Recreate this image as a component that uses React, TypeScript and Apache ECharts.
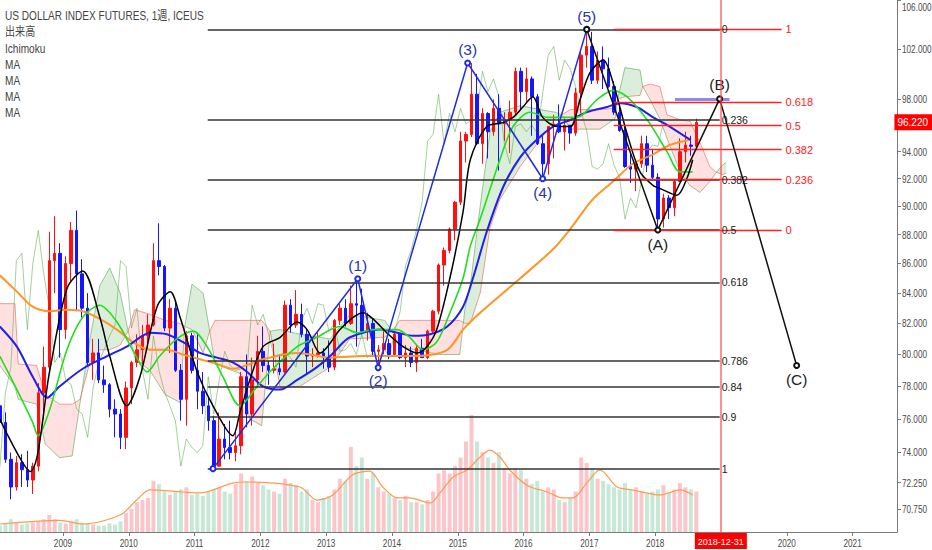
import React, { useEffect, useRef } from "react";
import * as echarts from "echarts";

// ---------- DATA ----------
const START_YEAR = 2008; // monthly candles from 2008-01
// [open, close, low, high]
const candles: number[][] = [
  // 2008
  [76.8, 75.8, 75.4, 77.3], [75.8, 73.6, 73.4, 76.4], [73.6, 72.0, 71.3, 74.0], [72.0, 73.4, 71.8, 73.8],
  [73.4, 73.0, 72.0, 73.9], [73.0, 72.4, 72.0, 74.1], [72.4, 73.2, 71.6, 73.4], [73.2, 77.6, 72.9, 78.2],
  [77.6, 79.2, 76.0, 80.5], [79.2, 86.2, 78.9, 88.2], [86.2, 86.7, 84.0, 89.3], [86.7, 81.6, 79.8, 87.4],
  // 2009
  [81.6, 86.0, 81.0, 86.5], [86.0, 88.3, 84.8, 88.9], [88.3, 85.3, 82.8, 89.7], [85.3, 83.0, 82.4, 86.3],
  [83.0, 79.5, 79.2, 84.0], [79.5, 80.1, 78.4, 81.0], [80.1, 78.4, 78.2, 81.0], [78.4, 78.1, 77.6, 79.3],
  [78.1, 76.6, 76.1, 78.2], [76.6, 76.3, 74.9, 77.2], [76.3, 74.9, 74.2, 76.6], [74.9, 77.9, 74.2, 78.3],
  // 2010
  [77.9, 79.5, 76.9, 79.6], [79.5, 80.3, 79.2, 81.3], [80.3, 81.2, 79.4, 81.9], [81.2, 81.9, 80.3, 82.6],
  [81.9, 86.2, 81.8, 87.4], [86.2, 85.8, 85.2, 88.8], [85.8, 81.7, 81.5, 85.9], [81.7, 83.0, 80.1, 83.6],
  [83.0, 79.0, 78.9, 83.4], [79.0, 77.2, 75.9, 79.4], [77.2, 81.2, 75.6, 81.5], [81.2, 79.0, 78.8, 81.4],
  // 2011
  [79.0, 77.7, 76.6, 81.4], [77.7, 76.8, 76.3, 78.9], [76.8, 75.9, 75.3, 77.4], [75.9, 73.2, 73.06, 76.2],
  [73.2, 74.8, 73.2, 76.4], [74.8, 74.3, 73.6, 75.7], [74.3, 74.0, 73.6, 75.9], [74.0, 74.4, 73.5, 75.3],
  [74.4, 78.6, 73.9, 78.9], [78.6, 76.3, 75.5, 80.0], [76.3, 78.4, 75.6, 79.8], [78.4, 80.2, 77.9, 81.2],
  // 2012
  [80.2, 79.3, 78.9, 81.8], [79.3, 79.0, 78.1, 79.6], [79.0, 79.1, 78.8, 80.7], [79.1, 78.9, 78.7, 80.0],
  [78.9, 83.2, 78.8, 83.5], [83.2, 81.9, 81.4, 83.6], [81.9, 82.6, 81.7, 84.2], [82.6, 81.3, 81.1, 83.3],
  [81.3, 79.9, 78.8, 81.6], [79.9, 80.0, 79.2, 80.4], [80.0, 80.1, 79.8, 81.4], [80.1, 79.8, 79.1, 80.4],
  // 2013
  [79.8, 79.2, 78.9, 80.9], [79.2, 82.2, 79.0, 82.3], [82.2, 83.0, 81.9, 83.3], [83.0, 82.0, 81.8, 83.6],
  [82.0, 83.3, 81.9, 84.5], [83.3, 83.2, 80.5, 84.97], [83.2, 81.5, 81.3, 84.3], [81.5, 82.0, 80.9, 82.7],
  [82.0, 80.2, 79.9, 82.3], [80.2, 80.3, 79.17, 80.6], [80.3, 80.7, 80.0, 81.5], [80.7, 80.0, 79.7, 81.0],
  // 2014
  [80.0, 81.3, 79.9, 81.5], [81.3, 79.8, 79.7, 81.4], [79.8, 80.1, 79.2, 80.6], [80.1, 79.5, 79.2, 80.5],
  [79.5, 80.4, 78.9, 80.6], [80.4, 79.8, 79.8, 81.0], [79.8, 81.5, 79.7, 81.6], [81.5, 82.8, 81.4, 82.9],
  [82.8, 85.9, 82.6, 86.0], [85.9, 86.9, 84.5, 87.1], [86.9, 88.4, 86.7, 88.5], [88.4, 90.3, 87.6, 90.4],
  // 2015
  [90.3, 94.8, 90.1, 95.5], [94.8, 95.3, 93.2, 95.5], [95.3, 98.4, 95.1, 100.87], [98.4, 94.6, 94.5, 100.0],
  [94.6, 96.9, 93.1, 97.3], [96.9, 95.5, 93.5, 97.0], [95.5, 97.3, 95.2, 98.0], [97.3, 96.1, 92.6, 98.4],
  [96.1, 96.4, 94.8, 97.0], [96.4, 97.0, 93.9, 97.9], [97.0, 100.2, 96.8, 100.5], [100.2, 98.6, 97.2, 100.5],
  // 2016
  [98.6, 99.6, 97.8, 100.5], [99.6, 98.2, 95.2, 99.8], [98.2, 94.6, 94.5, 98.4], [94.6, 93.1, 92.0, 95.2],
  [93.1, 95.9, 92.3, 95.9], [95.9, 96.1, 93.5, 96.8], [96.1, 95.5, 95.4, 97.6], [95.5, 96.0, 94.1, 96.5],
  [96.0, 95.4, 94.6, 96.0], [95.4, 98.5, 95.2, 98.9], [98.5, 101.5, 96.9, 101.9], [101.5, 102.2, 100.5, 103.6],
  // 2017
  [102.2, 99.5, 99.2, 103.4], [99.5, 101.1, 99.2, 101.8], [101.1, 100.4, 98.8, 102.2], [100.4, 99.0, 98.9, 101.3],
  [99.0, 97.0, 96.8, 99.4], [97.0, 95.6, 95.5, 97.8], [95.6, 92.9, 92.8, 96.0], [92.9, 92.7, 91.7, 94.0],
  [92.7, 93.1, 91.1, 93.4], [93.1, 94.6, 92.8, 95.2], [94.6, 93.0, 92.5, 95.2], [93.0, 92.1, 91.9, 94.2],
  // 2018
  [92.1, 89.1, 88.33, 92.4], [89.1, 90.6, 88.5, 90.9], [90.6, 89.9, 89.1, 90.8], [89.9, 91.8, 89.3, 91.9],
  [91.8, 94.0, 91.8, 95.0], [94.0, 94.5, 93.2, 95.5], [94.5, 94.4, 93.7, 95.2], [94.4, 96.22, 94.1, 96.5],
];

// weekly-average volume per month (thousand contracts)
const volume: number[] = [
  6, 8, 12, 9, 7, 8, 9, 10, 12, 16, 12, 9,
  8, 10, 12, 9, 8, 7, 6, 6, 8, 7, 10, 18,
  22, 28, 30, 32, 48, 45, 38, 35, 38, 40, 42, 35,
  36, 34, 38, 40, 42, 38, 36, 45, 55, 48, 52, 46,
  44, 40, 38, 36, 50, 46, 44, 38, 40, 30, 28, 32,
  34, 40, 50, 48, 80, 62, 70, 50, 55, 42, 38, 36,
  32, 30, 34, 28, 28, 26, 30, 38, 55, 58, 55, 62,
  70, 85, 110, 85, 75, 70, 65, 75, 60, 55, 60, 58,
  50, 45, 48, 38, 42, 40, 30, 28, 32, 38, 70, 65,
  60, 50, 48, 45, 42, 40, 46, 40, 42, 38, 36, 38,
  40, 44, 38, 40, 46, 42, 40, 38,
];

const volumeMA: number[][] = [
  [2008.04, 7.5], [2008.95, 11], [2009.3, 7.5], [2009.87, 16], [2010.12, 30], [2010.32, 39.5], [2010.82, 37.6],
  [2011.08, 36.7], [2011.58, 46], [2011.8, 47], [2012.6, 42.3], [2012.86, 30], [2013.1, 34.8], [2013.36, 51.7],
  [2013.47, 55.5], [2013.66, 57.3], [2013.86, 42.3], [2014.08, 32], [2014.27, 32], [2014.58, 27.3], [2014.73, 36.7],
  [2014.93, 51.7], [2015.14, 58.3], [2015.34, 70.5], [2015.49, 77], [2015.64, 70.5], [2015.79, 58.3], [2016.05, 44],
  [2016.36, 37.6], [2016.6, 32], [2016.75, 32], [2016.96, 46], [2017.16, 58.3], [2017.42, 42.3], [2017.66, 39.5],
  [2018.07, 34.8], [2018.38, 39.5], [2018.57, 34.8],
];

const maBlack: number[][] = [
  [2008.04, 76.0], [2008.5, 72.9], [2008.8, 79.0], [2009.06, 84.3], [2009.3, 85.5], [2009.56, 82.4], [2009.71, 79.9],
  [2009.97, 76.8], [2010.17, 78.6], [2010.43, 83.1], [2010.63, 84.1], [2010.78, 82.4], [2011.04, 78.9], [2011.28, 76.8],
  [2011.58, 75.0], [2011.69, 76.4], [2011.84, 78.4], [2012.04, 80.5], [2012.3, 81.1], [2012.56, 82.1], [2012.71, 81.6],
  [2012.91, 80.1], [2013.21, 81.6], [2013.41, 82.4], [2013.56, 82.7], [2013.71, 82.3], [2013.92, 81.4], [2014.17, 80.5],
  [2014.38, 80.1], [2014.53, 80.5], [2014.68, 81.6], [2014.88, 85.0], [2015.08, 89.6], [2015.19, 93.4], [2015.44, 95.9],
  [2015.69, 96.2], [2015.84, 96.6], [2015.99, 97.4], [2016.14, 98.2], [2016.29, 96.6], [2016.51, 95.9], [2016.71, 95.9],
  [2016.86, 98.0], [2017.01, 100.1], [2017.21, 101.1], [2017.36, 99.3], [2017.57, 95.4], [2017.77, 92.5], [2017.97, 91.5],
  [2018.07, 91.3], [2018.33, 90.8], [2018.48, 92.0], [2018.57, 93.4],
];

const maGreen: number[][] = [
  [2008.04, 79.9], [2008.3, 77.8], [2008.54, 75.8], [2008.62, 75.0], [2008.8, 76.6], [2009.06, 80.3], [2009.3, 82.4],
  [2009.56, 83.2], [2009.82, 82.1], [2010.06, 80.3], [2010.28, 78.9], [2010.47, 79.9], [2010.73, 81.0], [2010.98, 81.5],
  [2011.19, 80.5], [2011.43, 78.6], [2011.69, 76.8], [2011.95, 78.0], [2012.19, 79.1], [2012.56, 80.5], [2012.86, 81.1],
  [2013.21, 81.8], [2013.47, 81.4], [2013.71, 81.6], [2014.08, 81.6], [2014.27, 81.1], [2014.47, 80.3], [2014.68, 80.8],
  [2014.88, 82.7], [2015.08, 85.0], [2015.19, 87.2], [2015.34, 89.1], [2015.64, 93.4], [2015.84, 95.9], [2016.1, 97.0],
  [2016.36, 96.6], [2016.81, 96.6], [2017.12, 98.0], [2017.36, 98.7], [2017.57, 98.2], [2017.88, 96.4], [2018.07, 94.9],
  [2018.18, 94.0], [2018.38, 92.5], [2018.57, 92.5],
];

const maBlue: number[][] = [
  [2008.04, 81.8], [2008.3, 80.5], [2008.54, 78.6], [2008.76, 77.3], [2008.95, 78.0], [2009.3, 79.1], [2009.67, 79.9],
  [2009.97, 80.5], [2010.17, 81.1], [2010.32, 81.4], [2010.58, 81.3], [2010.82, 80.8], [2011.08, 80.1], [2011.34, 79.8],
  [2011.58, 79.5], [2011.8, 78.9], [2012.04, 78.0], [2012.3, 77.8], [2012.56, 78.4], [2012.86, 79.2], [2013.06, 79.9],
  [2013.32, 81.0], [2013.56, 81.4], [2013.82, 81.6], [2014.08, 81.4], [2014.32, 81.2], [2014.58, 81.3], [2014.84, 81.8],
  [2015.08, 83.1], [2015.23, 85.0], [2015.44, 88.2], [2015.69, 91.4], [2015.95, 93.6], [2016.2, 94.9], [2016.45, 95.9],
  [2016.71, 96.4], [2016.96, 97.0], [2017.27, 97.4], [2017.47, 97.7], [2017.72, 97.4], [2017.97, 96.6], [2018.22, 95.9],
  [2018.53, 94.9],
];

const maOrange: number[][] = [
  [2008.04, 85.2], [2008.3, 84.1], [2008.54, 83.1], [2008.8, 82.8], [2009.06, 82.9], [2009.3, 82.8], [2009.56, 82.3],
  [2009.82, 81.6], [2010.06, 80.8], [2010.32, 80.3], [2010.58, 80.3], [2010.82, 80.0], [2011.08, 79.7], [2011.34, 79.4],
  [2011.58, 79.1], [2012.04, 79.7], [2012.56, 80.1], [2013.06, 79.8], [2013.56, 79.9], [2014.38, 79.9], [2014.84, 80.3],
  [2015.08, 81.6], [2015.34, 82.7], [2015.95, 85.0], [2016.45, 87.0], [2016.71, 88.4], [2017.05, 90.5], [2017.36, 91.8],
  [2017.66, 93.1], [2017.97, 93.8], [2018.22, 94.5], [2018.53, 94.9],
];

// Ichimoku cloud [time, senkouA, senkouB]
const cloud: number[][] = [
  [2008.04, 79.3, 83.3], [2008.27, 78.0, 83.3], [2008.32, 77.2, 79.4], [2008.6, 76.9, 79.3], [2008.73, 74.5, 77.5],
  [2008.95, 73.7, 76.9], [2009.14, 73.8, 76.9], [2009.26, 77.0, 77.2], [2009.41, 81.0, 79.5], [2009.56, 84.5, 80.3],
  [2009.71, 85.7, 80.3], [2009.87, 84.0, 80.6], [2009.99, 81.5, 81.5], [2010.09, 79.8, 82.9], [2010.32, 79.0, 82.6],
  [2010.55, 77.5, 82.2], [2010.78, 77.0, 82.0], [2010.85, 81.8, 81.8], [2010.96, 84.6, 81.6], [2011.13, 84.0, 80.1],
  [2011.23, 81.5, 81.5], [2011.31, 79.4, 82.2], [2011.69, 78.8, 82.2], [2011.84, 76.0, 82.2], [2012.02, 75.6, 82.2],
  [2012.15, 81.5, 81.5], [2012.3, 81.6, 77.9], [2012.6, 81.3, 78.0], [2013.06, 81.0, 79.2], [2013.36, 82.6, 81.0],
  [2013.89, 82.2, 81.1], [2014.0, 81.5, 81.5], [2014.12, 80.5, 82.2], [2014.73, 80.0, 82.2], [2015.03, 80.0, 82.2],
  [2015.11, 83.0, 82.0], [2015.19, 84.5, 82.0], [2015.34, 90.0, 84.0], [2015.49, 95.5, 88.5], [2015.64, 97.0, 90.5],
  [2015.95, 97.5, 92.9], [2016.25, 97.2, 94.9], [2016.48, 97.0, 96.5], [2016.58, 96.8, 96.8], [2016.71, 95.7, 97.2],
  [2017.16, 95.7, 97.2], [2017.39, 96.5, 97.3], [2017.43, 98.0, 98.0], [2017.54, 100.5, 98.2], [2017.77, 100.3, 98.3],
  [2017.81, 99.0, 99.0], [2017.92, 98.0, 99.2], [2018.07, 96.5, 99.0], [2018.18, 95.0, 96.8], [2018.38, 92.5, 96.4],
  [2018.53, 91.5, 96.3], [2018.68, 91.0, 94.7], [2018.83, 91.8, 92.9], [2018.92, 92.4, 92.5], [2019.02, 93.0, 92.3],
  [2019.08, 93.2, 92.4],
];

// Elliott waves [label, time, price]
const impulseWave: (string | number)[][] = [
  ["", 2011.28, 73.06], ["(1)", 2013.48, 84.97], ["(2)", 2013.79, 79.17], ["(3)", 2015.15, 100.87],
  ["(4)", 2016.29, 92.0], ["(5)", 2016.96, 103.6],
];
const correctiveWave: (string | number)[][] = [
  ["", 2016.96, 103.6], ["(A)", 2018.04, 88.33], ["(B)", 2018.98, 98.03], ["(C)", 2020.15, 79.3],
];

// Fibonacci retracements
const fibBlackLevels = [0, 0.236, 0.382, 0.5, 0.618, 0.786, 0.84, 0.9, 1];
const fibBlackHigh = 103.6;
const fibBlackLow = 73.06;
const fibBlackSpan = [2011.2, 2018.98];
const fibRedLevels = [1, 0.618, 0.5, 0.382, 0.236, 0];
const fibRedHigh = 103.6;
const fibRedLow = 88.33;
const fibRedSpan = [2017.37, 2019.92];
const targetLine = { from: 2018.3, to: 2019.13, value: 98.03 };

const yearTicks = [2009, 2010, 2011, 2012, 2013, 2014, 2015, 2016, 2017, 2018, 2020, 2021];
const priceTicks = [70.75, 72.25, 74, 76, 78, 80, 82, 84, 86, 88, 90, 92, 94, 98, 102, 106];
const lastPrice = 96.22;
const markerDate = 2018.998;
const markerDateLabel = "2018-12-31";

const legendLines = ["US DOLLAR INDEX FUTURES, 1週, ICEUS", "出来高", "Ichimoku", "MA", "MA", "MA", "MA"];

// ---------- CHART ----------
const FONT = "'Liberation Sans', Arial, 'Noto Sans CJK JP', sans-serif";
const X_MIN = 2008.043;
const X_MAX = 2021.675;
const Y_MIN = 69.47;
const Y_MAX = 106.05;
const NARROW = 0.78;

function buildOption() {
  const times = candles.map((_, i) => START_YEAR + (i + 0.5) / 12);
  const UP = "#ff1010";
  const DOWN = "#1515ff";

  const cloudSeries = {
    type: "custom",
    silent: true,
    clip: true,
    z: 1,
    data: cloud,
    encode: { x: 0, y: [1, 2] },
    renderItem: (params: any, api: any) => {
      const i = params.dataIndex;
      if (i >= cloud.length - 1) return null;
      const [t0, a0, b0] = cloud[i];
      const [t1, a1, b1] = cloud[i + 1];
      const green = "rgba(70,170,70,0.2)";
      const pink = "rgba(255,80,80,0.17)";
      const poly = (pts: number[][], fill: string) => ({
        type: "polygon",
        shape: { points: pts.map((p) => api.coord(p)) },
        style: { fill, stroke: null },
      });
      const d0 = a0 - b0;
      const d1 = a1 - b1;
      if (d0 * d1 < 0) {
        const f = d0 / (d0 - d1);
        const tc = t0 + f * (t1 - t0);
        const vc = a0 + f * (a1 - a0);
        return {
          type: "group",
          children: [
            poly([[t0, a0], [tc, vc], [t0, b0]], d0 > 0 ? green : pink),
            poly([[tc, vc], [t1, a1], [t1, b1]], d1 > 0 ? green : pink),
          ],
        };
      }
      return poly([[t0, a0], [t1, a1], [t1, b1], [t0, b0]], d0 + d1 >= 0 ? green : pink);
    },
  };

  const line = (data: number[][], color: string, width: number, z: number, extra: any = {}) => ({
    type: "line",
    data,
    showSymbol: false,
    symbol: "none",
    silent: true,
    z,
    lineStyle: { color, width },
    ...extra,
  });

  const fibBlackLines = fibBlackLevels.map((lvl) => {
    const v = fibBlackHigh - lvl * (fibBlackHigh - fibBlackLow);
    return [
      {
        coord: [fibBlackSpan[0], v],
        lineStyle: { color: "#333", width: 1.6, type: "solid" },
        label: { show: true, position: "end", formatter: String(lvl), color: "#222", fontSize: 10.5, fontFamily: FONT, distance: 2 },
      },
      { coord: [fibBlackSpan[1], v] },
    ];
  });
  const fibRedLines = fibRedLevels.map((lvl) => {
    const v = fibRedLow + lvl * (fibRedHigh - fibRedLow);
    return [
      {
        coord: [fibRedSpan[0], v],
        lineStyle: { color: "#ff2020", width: 1.3, type: "solid" },
        label: { show: true, position: "end", formatter: String(lvl), color: "#ff1a1a", fontSize: 11, fontFamily: FONT, distance: 4 },
      },
      { coord: [fibRedSpan[1], v] },
    ];
  });
  const purple = [
    {
      coord: [targetLine.from, targetLine.value],
      lineStyle: { color: "#8c8ce6", width: 3, type: "solid" },
      label: { show: false },
    },
    { coord: [targetLine.to, targetLine.value] },
  ];

  const waveData = (w: (string | number)[][], pos: string[]) =>
    w.map((p, i) => ({
      value: [p[1], p[2]],
      label: { show: p[0] !== "", formatter: String(p[0]), position: pos[i] },
    }));

  return {
    animation: false,
    backgroundColor: "#ffffff",
    tooltip: { show: false },
    grid: { left: 0, right: 35, top: 0, bottom: 18, containLabel: false, outerBoundsMode: "none" },
    xAxis: {
      type: "value",
      min: X_MIN,
      max: X_MAX,
      splitLine: { show: false },
      axisLine: { show: true, onZero: false, lineStyle: { color: "#7a7a7a", width: 1 } },
      axisTick: { show: true, customValues: yearTicks, length: 4, lineStyle: { color: "#7a7a7a" } },
      axisLabel: { show: false },
      axisPointer: {
        show: true,
        type: "line",
        value: markerDate,
        status: "show",
        snap: false,
        triggerTooltip: false,
        handle: { show: false },
        lineStyle: { color: "rgba(255,70,70,0.6)", width: 2, type: "solid" },
        label: {
          show: true,
          formatter: () => markerDateLabel,
          backgroundColor: "#ff0000",
          color: "#ffffff",
          fontSize: 9,
          fontFamily: FONT,
          padding: [4, 3, 3, 3],
          margin: 1,
          borderRadius: 0,
          shadowBlur: 0,
        },
      },
    },
    yAxis: [
      {
        type: "log",
        logBase: 10,
        position: "right",
        min: Y_MIN,
        max: Y_MAX,
        splitLine: { show: false },
        axisLine: { show: true, lineStyle: { color: "#7a7a7a", width: 1 } },
        axisTick: { show: true, customValues: priceTicks, length: 4, lineStyle: { color: "#7a7a7a" } },
        axisLabel: { show: false },
        axisPointer: {
          show: true,
          type: "line",
          value: lastPrice,
          status: "show",
          snap: false,
          triggerTooltip: false,
          handle: { show: false },
          lineStyle: { opacity: 0 },
          label: {
            show: true,
            formatter: () => lastPrice.toFixed(3),
            backgroundColor: "#ff0000",
            color: "#ffffff",
            fontSize: 10,
            fontFamily: FONT,
            padding: [3, 4, 3, 3],
            margin: 1,
            borderRadius: 0,
            shadowBlur: 0,
          },
        },
      },
      { type: "value", min: 0, max: 500, show: false },
    ],
    series: [
      cloudSeries,
      line(cloud.map((c) => [c[0], c[1]]), "rgba(60,150,60,0.5)", 1, 2),
      line(cloud.map((c) => [c[0], c[2]]), "rgba(235,80,80,0.55)", 1, 2),
      {
        type: "bar",
        yAxisIndex: 1,
        silent: true,
        z: 2,
        barWidth: 4,
        data: volume.map((v, i) => ({
          value: [times[i], v],
          itemStyle: { color: candles[i][1] >= candles[i][0] ? "rgba(250,140,150,0.5)" : "rgba(110,195,150,0.38)" },
        })),
      },
      line(volumeMA, "#ff9a50", 1.2, 3, { yAxisIndex: 1, smooth: 0.3 }),
      line(candles.map((c, i) => [times[i] - 0.5, c[1]]), "rgba(80,160,60,0.5)", 1, 3),
      {
        type: "candlestick",
        silent: true,
        z: 4,
        barWidth: 3,
        encode: { x: 0, y: [1, 2, 3, 4] },
        data: candles.map((c, i) => [times[i], c[0], c[1], c[2], c[3]]),
        itemStyle: { color: UP, color0: DOWN, borderColor: UP, borderColor0: DOWN, borderWidth: 1 },
      },
      line(maOrange, "#ff9525", 2, 5, { smooth: 0.3 }),
      line(maBlue, "#1f1ff0", 2, 5, { smooth: 0.3 }),
      line(maGreen, "#22dd22", 1.6, 5, { smooth: 0.3 }),
      line(maBlack, "#000000", 1.5, 5, { smooth: 0.3 }),
      {
        type: "line",
        silent: true,
        z: 8,
        symbol: "emptyCircle",
        symbolSize: 5,
        showSymbol: true,
        lineStyle: { color: "#1f2de0", width: 1.5 },
        itemStyle: { color: "#1f2de0", borderWidth: 1 },
        label: { color: "#2b35a6", fontSize: 15.5, fontFamily: FONT, distance: 2 },
        data: waveData(impulseWave, ["bottom", "top", "bottom", "top", "bottom", "top"]),
        markLine: { silent: true, symbol: ["none", "none"], animation: false, z: 7, data: fibBlackLines },
      },
      {
        type: "line",
        silent: true,
        z: 8,
        symbol: "emptyCircle",
        symbolSize: 5,
        showSymbol: true,
        lineStyle: { color: "#111", width: 1.5 },
        itemStyle: { color: "#111", borderWidth: 1 },
        label: { color: "#222", fontSize: 15.5, fontFamily: FONT, distance: 3 },
        data: waveData(correctiveWave, ["top", "bottom", "top", "bottom"]),
        markLine: { silent: true, symbol: ["none", "none"], animation: false, z: 7, data: [...fibRedLines, purple] },
      },
    ],
  };
}

function buildTexts(chart: any) {
  const legendY = [16, 32, 49, 65, 81, 97, 113];
  const legend = legendLines.map((t, i) => ({
    type: "text",
    x: 5,
    y: legendY[i],
    scaleX: 0.84,
    silent: true,
    z: 100,
    style: { text: t, fill: "#444", fontSize: 12, fontFamily: FONT, verticalAlign: "middle", align: "left" },
  }));
  const axisRight = chart.convertToPixel({ xAxisIndex: 0 }, X_MAX);
  const axisBottom = chart.convertToPixel({ yAxisIndex: 1 }, 0);
  const yLabels = priceTicks.map((v) => ({
    type: "text",
    x: axisRight + 5,
    // keep the topmost label inside the page
    y: Math.max(chart.convertToPixel({ yAxisIndex: 0 }, v), 7),
    scaleX: NARROW,
    silent: true,
    z: 50,
    style: { text: v.toFixed(3), fill: "#4a4a4a", fontSize: 10.5, fontFamily: FONT, verticalAlign: "middle", align: "left" },
  }));
  const xLabels = yearTicks.map((t) => ({
    type: "text",
    x: chart.convertToPixel({ xAxisIndex: 0 }, t),
    y: axisBottom + 11,
    scaleX: NARROW,
    silent: true,
    z: 50,
    style: { text: String(t), fill: "#4a4a4a", fontSize: 10.5, fontFamily: FONT, verticalAlign: "middle", align: "center" },
  }));
  return [...legend, ...yLabels, ...xLabels];
}

export default function App() {
  const ref = useRef<HTMLDivElement>(null);
  useEffect(() => {
    if (!ref.current) return;
    const chart = echarts.init(ref.current, null, { renderer: "svg" });
    chart.setOption(buildOption() as any);
    chart.setOption({ graphic: buildTexts(chart) } as any);
    return () => chart.dispose();
  }, []);
  return (
    <div
      ref={ref}
      style={{ position: "absolute", left: 0, top: 0, width: 932, height: 550, background: "#fff" }}
    />
  );
}
